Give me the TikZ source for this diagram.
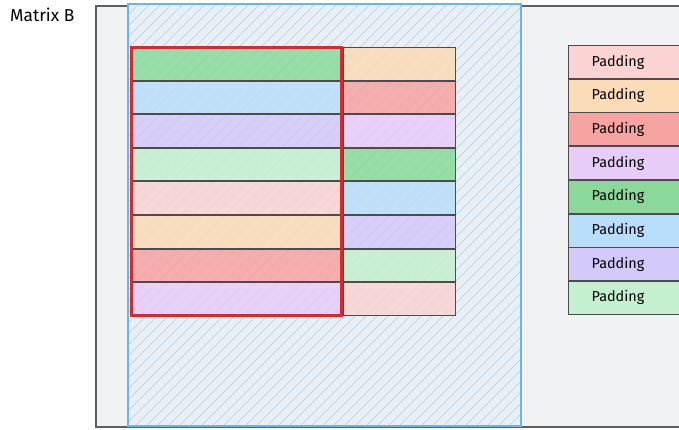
\documentclass[tikz,border=0pt]{standalone}
\usepackage{fontspec}
\setmainfont{Fira Sans}
\usepackage{tikz}
\usetikzlibrary{positioning,calc}
\usepackage{xcolor}

\definecolor{paper}{HTML}{F1F2F4}
\definecolor{frame}{HTML}{5F5F5F}
\definecolor{hatchblue}{HTML}{6AB4EF}
\definecolor{redline}{HTML}{D62B2B}
\definecolor{cgreen}{HTML}{8AD99B}
\definecolor{cblue}{HTML}{B9DEFB}
\definecolor{clav}{HTML}{D4C9FB}
\definecolor{clgreen}{HTML}{C5F0CF}
\definecolor{cpink}{HTML}{FBD3D3}
\definecolor{cpeach}{HTML}{FBDCB6}
\definecolor{csalmon}{HTML}{F7A3A1}
\definecolor{cpurple}{HTML}{E8CCF8}

\tikzset{
  bar/.style={draw=black!70, line width=1pt, inner sep=0pt, anchor=north west},
  leftbar/.style={bar, fill opacity=0.85, minimum width=209pt, minimum height=32.5pt},
  rightbar/.style={bar, fill opacity=0.85, minimum width=112pt, minimum height=32.5pt},
  padbar/.style={bar, minimum width=125pt, minimum height=33pt, text width=110pt, align=center, font=\Large}
}

\begin{document}
\begin{tikzpicture}[x=1pt, y=-1pt]
    \useasboundingbox (0,0) rectangle (679,429);

    % Outer frame of the matrix
    \draw[frame, line width=2.2pt, fill=paper] (96,6) rectangle (720,427);
    \node[font=\LARGE, anchor=west, inner sep=0pt] (title) at (10,15) {Matrix B};

    % Blue hatched tile
    \fill[hatchblue!5!paper] (128,4) rectangle (521,426);
    \begin{scope}
        \clip (128,4) rectangle (521,426);
        \foreach \s in {0,11,...,830}
            \draw[hatchblue!45!paper, line width=0.7pt] ({128+\s-422},426) -- ({128+\s},4);
    \end{scope}

    % Rows of the tile: left and right columns
    \foreach \c [count=\i from 0] in {cgreen,cblue,clav,clgreen,cpink,cpeach,csalmon,cpurple}
        \node[leftbar, fill=\c] (left\i) at (131,{47+33.6*\i}) {};
    \foreach \c [count=\i from 0] in {cpeach,csalmon,cpurple,cgreen,cblue,clav,clgreen,cpink}
        \node[rightbar, fill=\c] (right\i) at (343,{47+33.6*\i}) {};

    \draw[hatchblue, line width=1.8pt] (128,4) rectangle (521,426);

    % Red selection
    \draw[redline, line width=3pt] (left0.north west) rectangle (left7.south east);

    % Padding column
    \foreach \c [count=\i from 0] in {cpink,cpeach,csalmon,cpurple,cgreen,cblue,clav,clgreen}
        \node[padbar, fill=\c] (pad\i) at (568,{45+33.7*\i}) {\hspace*{-26pt}Padding};

\end{tikzpicture}
\end{document}
